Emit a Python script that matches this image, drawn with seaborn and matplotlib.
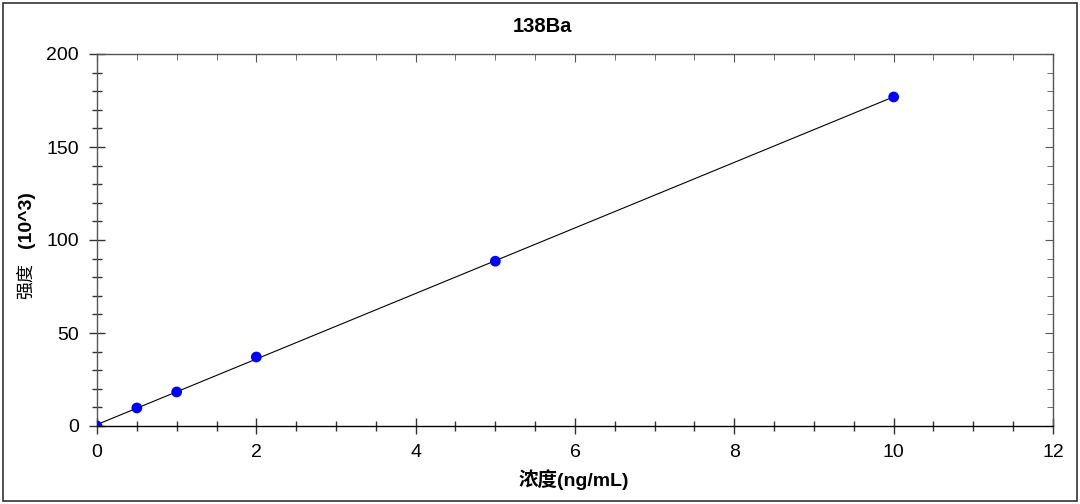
import numpy as np
import pandas as pd
import seaborn as sns
import matplotlib
matplotlib.use("Agg")
import matplotlib.pyplot as plt
from matplotlib.patches import Rectangle
from matplotlib.ticker import MultipleLocator

# ---- data ----
concentration = [0, 0.5, 1, 2, 5, 10]
intensity = [0.0, 9.7, 18.3, 37.1, 88.6, 176.9]
title = "138Ba"
xlabel_cn = "浓度"
xlabel_unit = "(ng/mL)"
ylabel_cn = "强度"
ylabel_unit = "(10^3)"

df = pd.DataFrame({"conc": concentration, "intensity": intensity})
slope, intercept = np.polyfit(df["conc"], df["intensity"], 1)
fit = pd.DataFrame({"conc": [min(concentration), max(concentration)]})
fit["intensity"] = intercept + slope * fit["conc"]

sns.set_style("white")
plt.rcParams["font.family"] = ["Liberation Sans", "Noto Sans CJK SC", "DejaVu Sans"]
plt.rcParams["text.color"] = "black"
plt.rcParams["xtick.bottom"] = True
plt.rcParams["ytick.left"] = True

fig = plt.figure(figsize=(10.8, 5.04), dpi=100)
ax = fig.add_axes([97/1080, 1-426/504, (1053-97)/1080, (426-54)/504])

sns.lineplot(data=fit, x="conc", y="intensity", ax=ax, color="black", lw=0.8)
sns.scatterplot(data=df, x="conc", y="intensity", ax=ax, color="#0000ff",
                s=60, edgecolor="none", zorder=3)

ax.set_xlim(0, 12)
ax.set_ylim(0, 200)
ax.xaxis.set_major_locator(MultipleLocator(2))
ax.xaxis.set_minor_locator(MultipleLocator(0.5))
ax.yaxis.set_major_locator(MultipleLocator(50))
ax.yaxis.set_minor_locator(MultipleLocator(10))
ax.set_xlabel("")
ax.set_ylabel("")

ax.tick_params(which="major", direction="inout", length=12, width=1,
               color="#333333", labelsize=14, labelcolor="black", pad=7,
               bottom=True, left=True)
ax.tick_params(which="minor", direction="inout", length=7, width=1, color="#333333",
               bottom=True, left=True)

for side in ["left", "top", "right"]:
    ax.spines[side].set_color("#555555")
    ax.spines[side].set_linewidth(1)
ax.spines["bottom"].set_color("black")
ax.spines["bottom"].set_linewidth(1)

# top / right inward ticks
top = ax.secondary_xaxis("top")
top.xaxis.set_major_locator(MultipleLocator(2))
top.xaxis.set_minor_locator(MultipleLocator(0.5))
top.tick_params(which="major", direction="in", length=6, color="#555555", labeltop=False, top=True)
top.tick_params(which="minor", direction="in", length=4, color="#555555", top=True)
top.spines["top"].set_visible(False)
right = ax.secondary_yaxis("right")
right.yaxis.set_major_locator(MultipleLocator(50))
right.yaxis.set_minor_locator(MultipleLocator(10))
right.tick_params(which="major", direction="in", length=6, color="#555555", labelright=False, right=True)
right.tick_params(which="minor", direction="in", length=4, color="#555555", right=True)
right.spines["right"].set_visible(False)

fig.text(542/1080, 1-27/504, title, ha="center", va="center", fontsize=14.5, fontweight="bold")
fig.text(574/1080, 1-480/504, xlabel_cn + xlabel_unit, ha="center", va="center",
         fontsize=14, fontweight="bold")
fig.text(26/1080, 1-281/504, ylabel_cn, ha="center", va="center", rotation=90, fontsize=13)
fig.text(26/1080, 1-220/504, ylabel_unit, ha="center", va="center", rotation=90,
         fontsize=14, fontweight="bold")

fig.patches.append(Rectangle((3/1080, 3/504), 1074/1080, 498/504, transform=fig.transFigure,
                             fill=False, edgecolor="#333333", lw=1.2))

fig.savefig("out.png", dpi=100)
